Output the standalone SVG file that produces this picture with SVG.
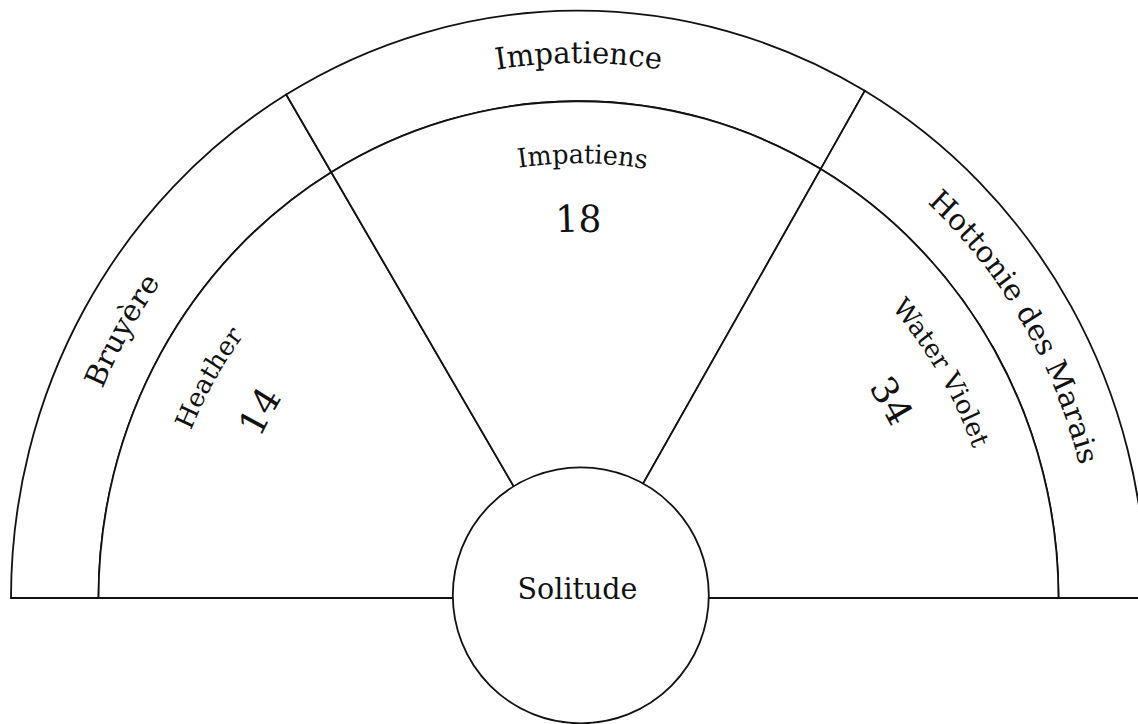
<svg xmlns="http://www.w3.org/2000/svg" xmlns:xlink="http://www.w3.org/1999/xlink" width="1138" height="724" viewBox="0 0 1138 724">
<style>
  .seg { fill: #ffffff; stroke: #111111; stroke-width: 1.8; vector-effect: non-scaling-stroke; }
  .hub { fill: #ffffff; stroke: #111111; stroke-width: 1.8; }
  text { font-family: "DejaVu Serif", "Liberation Serif", serif; fill: #111111; }
  .ring { font-size: 29px; }
  .name { font-size: 25.5px; }
  .num { font-size: 36px; }
  .hubtxt { font-size: 28.5px; }
</style>
<defs>
  <path id="pOuter" d="M -517 0 A 517 517 0 0 1 517 0"/>
  <path id="pInner" d="M -420 0 A 420 420 0 0 1 420 0"/>
  <path id="pNum" d="M -354 0 A 354 354 0 0 1 354 0"/>
</defs>
<rect x="0" y="0" width="1138" height="724" fill="#ffffff"/>
<g transform="translate(578.5,598) scale(1,1.035)">
  <g id="bruyere">
    <path class="seg" d="M -567.5 0 A 567.5 567.5 0 0 1 -292.3 -486.4 L -247.2 -411.4 A 480 480 0 0 0 -480 0 Z"/>
    <text class="ring"><textPath href="#pOuter" xlink:href="#pOuter" startOffset="16.4%" text-anchor="middle">Bruyère</textPath></text>
  </g>
  <g id="impatience">
    <path class="seg" d="M -292.3 -486.4 A 567.5 567.5 0 0 1 286.3 -490 L 242.2 -414.4 A 480 480 0 0 0 -247.2 -411.4 Z"/>
    <text class="ring"><textPath href="#pOuter" xlink:href="#pOuter" startOffset="50%" text-anchor="middle">Impatience</textPath></text>
  </g>
  <g id="hottonie">
    <path class="seg" d="M 286.3 -490 A 567.5 567.5 0 0 1 567.5 0 L 480 0 A 480 480 0 0 0 242.2 -414.4 Z"/>
    <text class="ring"><textPath href="#pOuter" xlink:href="#pOuter" startOffset="82.8%" text-anchor="middle">Hottonie des Marais</textPath></text>
  </g>
  <g id="heather">
    <path class="seg" d="M -480 0 A 480 480 0 0 1 -247.2 -411.4 L 0 0 Z"/>
    <text class="name"><textPath href="#pInner" xlink:href="#pInner" startOffset="16.6%" text-anchor="middle">Heather</textPath></text>
    <text class="num"><textPath href="#pNum" xlink:href="#pNum" startOffset="16.4%" text-anchor="middle">14</textPath></text>
  </g>
  <g id="impatiens">
    <path class="seg" d="M -247.2 -411.4 A 480 480 0 0 1 242.2 -414.4 L 0 0 Z"/>
    <text class="name"><textPath href="#pInner" xlink:href="#pInner" startOffset="50.3%" text-anchor="middle">Impatiens</textPath></text>
    <text class="num"><textPath href="#pNum" xlink:href="#pNum" startOffset="50%" text-anchor="middle">18</textPath></text>
  </g>
  <g id="water-violet">
    <path class="seg" d="M 242.2 -414.4 A 480 480 0 0 1 480 0 L 0 0 Z"/>
    <text class="name"><textPath href="#pInner" xlink:href="#pInner" startOffset="82.8%" text-anchor="middle">Water Violet</textPath></text>
    <text class="num"><textPath href="#pNum" xlink:href="#pNum" startOffset="82.6%" text-anchor="middle">34</textPath></text>
  </g>
</g>
<g id="connectors"></g>
<g id="solitude">
  <circle class="hub" cx="580.8" cy="595.3" r="128"/>
  <text class="hubtxt" x="577.5" y="599" text-anchor="middle" transform="translate(0,599) scale(1,1.035) translate(0,-599)">Solitude</text>
</g>
</svg>
